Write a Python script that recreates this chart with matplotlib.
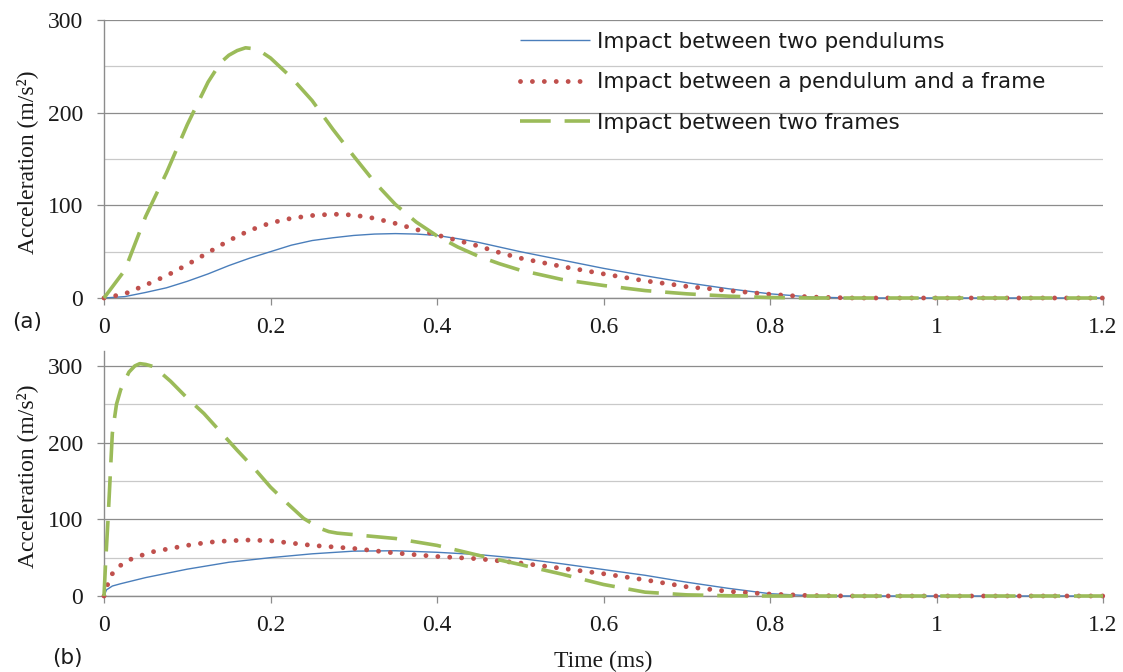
import matplotlib
matplotlib.use("Agg")
import matplotlib.pyplot as plt
from matplotlib.ticker import FixedLocator

# ---------------- data ----------------
series_names = ["Impact between two pendulums",
                "Impact between a pendulum and a frame",
                "Impact between two frames"]

# Panel (a)
t_a = [0, 0.025, 0.05, 0.075, 0.1, 0.125, 0.15, 0.175, 0.2, 0.225, 0.25, 0.275,
       0.3, 0.325, 0.35, 0.375, 0.4, 0.425, 0.45, 0.475, 0.5, 0.55, 0.6, 0.65,
       0.7, 0.75, 0.8, 0.85, 0.9, 1.0, 1.1, 1.2]
pend_a = [0, 1.5, 6, 11, 18, 26, 35, 43, 50, 57, 62, 65,
          67.5, 69, 69.5, 69, 67.5, 64, 60, 55, 50, 41, 32, 24,
          16.5, 10, 4.5, 1, 0, 0, 0, 0]
pend_frame_a = [0, 4.5, 14, 24, 36, 49, 62, 73, 81, 86, 89, 90.5,
                89.5, 86, 80.5, 74, 68, 62, 56, 49, 43, 34, 26, 18.5,
                12.5, 8, 4, 1, 0, 0, 0, 0]
t_a_fr = [0, 0.025, 0.05, 0.075, 0.1, 0.125, 0.14, 0.15, 0.16, 0.17, 0.18, 0.19,
          0.2, 0.225, 0.25, 0.275, 0.3, 0.325, 0.35, 0.375, 0.4, 0.425, 0.45,
          0.475, 0.5, 0.55, 0.6, 0.65, 0.7, 0.75, 0.8, 0.85, 0.9, 1.0, 1.1, 1.2]
frames_a = [0, 30, 88, 135, 187, 233, 254, 262, 267, 270, 269, 265,
            259, 238, 213, 182, 153, 125, 101, 82, 67, 55, 45,
            37, 30, 20, 13.5, 8, 4.5, 2, 0.5, 0, 0, 0, 0, 0]

# Panel (b)
t_b_pend = [0, 0.003, 0.01, 0.02, 0.05, 0.1, 0.15, 0.2, 0.25, 0.3, 0.35, 0.4,
            0.45, 0.5, 0.55, 0.6, 0.65, 0.7, 0.75, 0.8, 0.85, 0.9, 1.0, 1.1, 1.2]
pend_b = [0, 8, 13, 16, 24, 35, 44, 50, 55, 58.5, 59, 57,
          54, 49, 42, 34.5, 27, 18, 10, 3, 0.3, 0, 0, 0, 0]

t_b_pf = [0, 0.004, 0.01, 0.02, 0.03, 0.045, 0.06, 0.08, 0.1, 0.125, 0.15, 0.175,
          0.2, 0.225, 0.25, 0.3, 0.35, 0.4, 0.45, 0.5, 0.55, 0.6, 0.65, 0.7,
          0.75, 0.8, 0.85, 0.9, 1.0, 1.1, 1.2]
pend_frame_b = [0, 14, 29, 40, 47, 53, 58, 62, 66, 70, 72, 73,
                72, 69, 66, 62, 56, 51.5, 48.5, 43, 36, 29, 21, 12,
                6, 2.5, 0.5, 0, 0, 0, 0]

t_b_fr = [0, 0.002, 0.005, 0.01, 0.015, 0.02, 0.03, 0.037, 0.043, 0.05, 0.06, 0.08,
          0.1, 0.12, 0.14, 0.16, 0.18, 0.2, 0.22, 0.24, 0.26, 0.27, 0.28, 0.3,
          0.35, 0.4, 0.45, 0.5, 0.55, 0.6, 0.65, 0.7, 0.75, 0.8, 0.9, 1.0, 1.1, 1.2]
frames_b = [0, 45, 103, 212, 250, 269, 292, 300, 303, 302, 299, 280,
            258, 238, 214, 190, 167, 142, 121, 101, 88, 84, 82, 80,
            75, 66, 53, 41, 28.5, 15, 5, 1.5, 0.3, 0, 0, 0, 0, 0]

x_ticks = [0, 0.2, 0.4, 0.6, 0.8, 1.0, 1.2]
x_tick_labels = ["0", "0.2", "0.4", "0.6", "0.8", "1", "1.2"]
y_ticks = [0, 100, 200, 300]
y_tick_labels = ["0", "100", "200", "300"]
y_minor = [50, 150, 250]

# ---------------- styling ----------------
W, H = 1123, 672
fig = plt.figure(figsize=(W / 100, H / 100), dpi=100)
fig.patch.set_facecolor("white")

SERIF = "Liberation Serif"
SANS = "DejaVu Sans"
AX_GRAY = "#8c8c8c"
MAJ_GRID = "#8c8c8c"
MIN_GRID = "#c9c9c9"
BLUE = "#4a7ebb"
RED = "#c0504d"
GREEN = "#9bbb59"


def px_axes(left, top, right, bottom):
    return fig.add_axes([left / W, 1 - bottom / H, (right - left) / W, (bottom - top) / H])


ax_a = px_axes(104, 20, 1103, 298)
ax_b = px_axes(104, 350.6, 1103, 596)

for ax, ymax in ((ax_a, 300), (ax_b, 320)):
    ax.set_xlim(0, 1.2)
    ax.set_ylim(0, ymax)
    ax.xaxis.set_major_locator(FixedLocator(x_ticks))
    ax.set_xticklabels(x_tick_labels)
    ax.yaxis.set_major_locator(FixedLocator(y_ticks))
    ax.set_yticklabels(y_tick_labels)
    ax.yaxis.set_minor_locator(FixedLocator(y_minor))
    ax.grid(True, which="major", axis="y", color=MAJ_GRID, lw=0.9, zorder=0)
    ax.grid(True, which="minor", axis="y", color=MIN_GRID, lw=0.9, zorder=0)
    ax.set_axisbelow(True)
    for s in ("top", "right"):
        ax.spines[s].set_visible(False)
    for s in ("left", "bottom"):
        ax.spines[s].set_color(AX_GRAY)
        ax.spines[s].set_linewidth(1.0)
    ax.tick_params(which="major", direction="out", length=5, width=0.9,
                   color=AX_GRAY, labelsize=17, labelcolor="#1a1a1a")
    ax.tick_params(axis="y", which="major", pad=10)
    ax.tick_params(axis="x", which="major", pad=9)
    ax.tick_params(which="minor", length=0)
    for lab in ax.get_xticklabels() + ax.get_yticklabels():
        lab.set_family(SERIF)
    ax.set_ylabel("Acceleration (m/s²)", family=SERIF, fontsize=17, color="#1a1a1a")
    ax.yaxis.set_label_coords(-0.066, 0.49)

dot_style = (0, (0.001, 2.45))
dash_style = (0, (8.5, 3.85))


def draw(ax, t1, y1, t2, y2, t3, y3):
    l1, = ax.plot(t1, y1, color=BLUE, lw=1.0, zorder=3, clip_on=False,
                  solid_capstyle="butt", solid_joinstyle="round")
    l2, = ax.plot(t2, y2, color=RED, lw=3.5, linestyle=dot_style,
                  dash_capstyle="round", zorder=4, clip_on=False)
    l3, = ax.plot(t3, y3, color=GREEN, lw=2.6, linestyle=dash_style,
                  dash_capstyle="butt", dash_joinstyle="round", zorder=5, clip_on=False)
    return l1, l2, l3


handles = draw(ax_a, t_a, pend_a, t_a, pend_frame_a, t_a_fr, frames_a)
draw(ax_b, t_b_pend, pend_b, t_b_pf, pend_frame_b, t_b_fr, frames_b)

fs_leg = 15.5
fig.legend(handles, series_names, loc="upper left",
           bbox_to_anchor=(520 / W, 1 - 32 / H), bbox_transform=fig.transFigure,
           frameon=False, borderpad=0, borderaxespad=0,
           handlelength=3.25, handletextpad=0.33, labelspacing=0.95,
           prop={"family": SANS, "size": fs_leg}, labelcolor="#1a1a1a")

ax_b.set_xlabel("Time (ms)", family=SERIF, fontsize=17, color="#1a1a1a")
ax_b.xaxis.set_label_coords(0.5, (596 - 661) / 245.4)
ax_b.xaxis.label.set_va("center")

fig.text(27 / W, 1 - 322 / H, "(a)", family=SANS, fontsize=15.5,
         ha="center", va="center", color="#1a1a1a")
fig.text(67 / W, 1 - 658 / H, "(b)", family=SANS, fontsize=15.5,
         ha="center", va="center", color="#1a1a1a")

fig.savefig("out.png", dpi=100, facecolor="white")
